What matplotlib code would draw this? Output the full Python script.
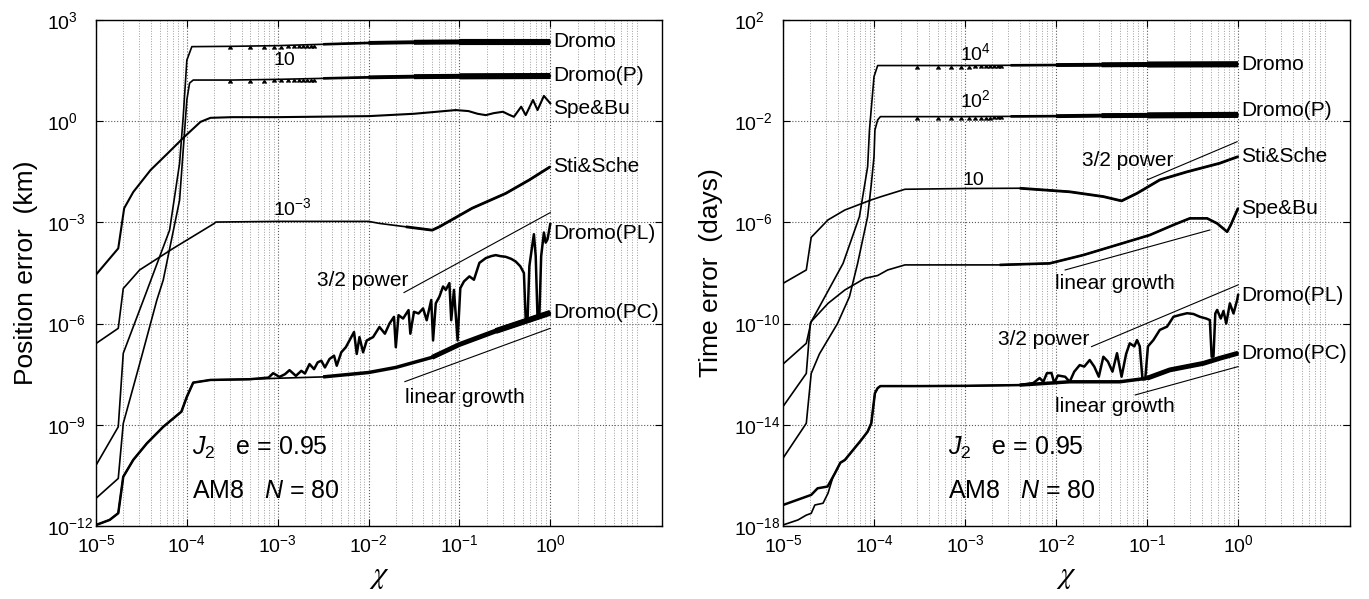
import numpy as np
import matplotlib
matplotlib.use("Agg")
import matplotlib.pyplot as plt
from matplotlib.ticker import NullLocator, LogLocator

plt.rcParams.update({
    "font.family": ["Liberation Sans", "DejaVu Sans"],
    "mathtext.fontset": "custom",
    "mathtext.rm": "Liberation Sans",
    "mathtext.it": "Liberation Sans:italic",
    "mathtext.bf": "Liberation Sans:bold",
})

# ================= DATA (log10 chi , log10 error) =================
# ---- Left panel: position error (km) ----
L_dromo_x = [-5.0, -4.755, -4.70, -4.45, -4.19, -4.08, -4.04, -4.00, -3.945, -3.5, -3.0, -2.5, -2.0, -1.5, -1.0, -0.5, 0.0]
L_dromo_y = [-10.2, -9.06, -6.88, -5.1, -3.23, -1.25, 0.13, 1.81, 2.21, 2.22, 2.24, 2.28, 2.32, 2.34, 2.35, 2.35, 2.35]

L_dromoP_x = [-5.0, -4.755, -4.70, -4.50, -4.33, -4.26, -4.08, -4.04, -4.00, -3.97, -3.93, -3.5, -3.0, -2.5, -2.0, -1.5, -1.0, 0.0]
L_dromoP_y = [-11.18, -10.59, -8.96, -7.0, -5.3, -4.71, -2.34, -0.85, 0.63, 1.13, 1.22, 1.22, 1.24, 1.27, 1.30, 1.32, 1.33, 1.34]

L_spebu_x = [-5.0, -4.755, -4.69, -4.59, -4.40, -4.21, -4.03, -3.85, -3.74, -3.5, -3.0, -2.0, -1.5, -1.04,
             -0.90, -0.80, -0.71, -0.62, -0.52, -0.46, -0.40, -0.32, -0.27, -0.19, -0.14, -0.07, 0.0]
L_spebu_y = [-4.55, -3.77, -2.58, -2.10, -1.45, -0.95, -0.47, -0.02, 0.10, 0.12, 0.12, 0.15, 0.22, 0.33,
             0.30, 0.22, 0.18, 0.24, 0.28, 0.20, 0.13, 0.43, 0.18, 0.63, 0.33, 0.75, 0.53]

L_stische_x = [-5.0, -4.755, -4.70, -4.52, -4.15, -3.71, -3.68, -3.0, -2.0, -1.88, -1.59, -1.30, -1.22, -0.86, -0.49, -0.23, 0.0]
L_stische_y = [-6.59, -6.14, -4.96, -4.41, -3.77, -3.05, -2.99, -2.97, -2.97, -3.03, -3.13, -3.23, -3.13, -2.58, -2.14, -1.74, -1.35]

L_shared_x = [-5.0, -4.85, -4.755, -4.70, -4.59, -4.44, -4.26, -4.06, -4.0, -3.93, -3.74, -3.31]
L_shared_y = [-11.97, -11.82, -11.62, -10.54, -10.04, -9.55, -9.06, -8.61, -8.17, -7.75, -7.67, -7.65]

L_pc_tail_x = [-3.0, -2.5, -2.0, -1.7, -1.3, -1.0, -0.6, -0.3, 0.0]
L_pc_tail_y = [-7.62, -7.58, -7.45, -7.30, -7.00, -6.62, -6.22, -5.95, -5.68]

L_pl_tail_x = [-3.10, -3.05, -2.98, -2.92, -2.87, -2.80, -2.74, -2.70, -2.65, -2.60, -2.56, -2.52, -2.48, -2.43,
               -2.38, -2.35, -2.30, -2.25, -2.19, -2.16, -2.13, -2.10, -2.06, -2.02, -1.95, -1.88, -1.82, -1.77,
               -1.72, -1.70, -1.67, -1.62, -1.56, -1.54, -1.50, -1.45, -1.40, -1.36, -1.31, -1.29, -1.26, -1.22,
               -1.18, -1.15, -1.11, -1.09, -1.06, -1.02, -0.99, -0.95, -0.89, -0.84, -0.78, -0.71, -0.65, -0.60,
               -0.55, -0.49, -0.43, -0.38, -0.33, -0.29, -0.27, -0.25, -0.23, -0.20, -0.18, -0.16, -0.14, -0.12,
               -0.10, -0.07, -0.05, -0.03, 0.0]
L_pl_tail_y = [-7.60, -7.47, -7.58, -7.50, -7.38, -7.55, -7.40, -7.48, -7.20, -7.35, -7.15, -7.10, -7.30, -7.05,
               -6.95, -7.25, -6.85, -6.70, -6.40, -6.25, -6.90, -6.40, -6.85, -6.50, -6.40, -6.10, -6.30, -6.00,
               -5.80, -6.70, -5.75, -5.85, -5.60, -6.30, -5.65, -5.70, -5.55, -5.90, -5.30, -6.50, -5.40, -5.20,
               -4.90, -5.00, -4.80, -5.90, -5.00, -6.50, -4.95, -4.75, -4.60, -4.70, -4.20, -4.06, -4.00, -3.97,
               -4.00, -4.02, -4.08, -4.16, -4.30, -4.50, -5.90, -5.90, -4.30, -3.72, -3.35, -4.00, -5.85, -5.80,
               -4.00, -3.30, -3.60, -3.50, -3.05]

L_pow32_x = [-1.61, 0.0]
L_pow32_y = [-5.08, -2.71]
L_lin_x = [-1.60, 0.0]
L_lin_y = [-7.72, -6.14]

# ---- Right panel: time error (days) ----
R_dromo_x = [-5.0, -4.744, -4.70, -4.54, -4.34, -4.16, -4.07, -4.05, -4.0, -3.96, -3.0, -2.5, -2.0, -1.5, -1.0, 0.0]
R_dromo_y = [-13.28, -11.97, -9.99, -8.94, -7.62, -5.77, -3.8, -2.35, -0.24, 0.2, 0.2, 0.21, 0.22, 0.23, 0.24, 0.25]

R_dromoP_x = [-5.0, -4.744, -4.69, -4.60, -4.40, -4.27, -4.18, -4.07, -4.03, -4.0, -3.99, -3.96, -3.93, -3.0, -2.5, -2.0, -1.5, -1.0, 0.0]
R_dromoP_y = [-15.32, -13.94, -11.97, -11.2, -9.99, -8.94, -7.62, -5.77, -4.5, -3.4, -2.35, -1.95, -1.82, -1.82, -1.81, -1.80, -1.78, -1.77, -1.75]

R_stische_x = [-5.0, -4.744, -4.69, -4.505, -4.32, -4.03, -3.92, -3.66, -3.0, -2.40, -1.85, -1.48, -1.28, -1.11, -0.86, -0.56, -0.20, 0.0]
R_stische_y = [-8.41, -7.88, -6.59, -5.9, -5.51, -5.11, -4.98, -4.69, -4.66, -4.65, -4.79, -4.98, -5.15, -4.85, -4.32, -4.0, -3.66, -3.40]

R_spebu_x = [-5.0, -4.744, -4.69, -4.505, -4.32, -4.10, -3.96, -3.85, -3.66, -3.0, -2.62, -2.07, -1.70, -1.33, -0.97,
             -0.71, -0.53, -0.34, -0.23, -0.12, -0.08, 0.0]
R_spebu_y = [-11.6, -10.78, -9.92, -9.2, -8.67, -8.21, -8.1, -7.88, -7.68, -7.68, -7.68, -7.62, -7.29, -6.89, -6.5,
             -6.1, -5.84, -5.84, -6.04, -6.37, -6.1, -5.44]

R_pl_head_x = [-5.0, -4.69, -4.62, -4.51, -4.43, -4.37]
R_pl_head_y = [-17.17, -16.77, -16.51, -16.44, -15.92, -15.5]
R_pc_head_x = [-5.0, -4.835, -4.744, -4.69, -4.65, -4.56, -4.505, -4.45, -4.37]
R_pc_head_y = [-17.96, -17.76, -17.57, -17.5, -17.17, -17.1, -16.7, -16.05, -15.5]
R_shared_x = [-4.32, -4.14, -4.07, -4.03, -3.99, -3.96, -3.93, -3.5, -3.0, -2.4]
R_shared_y = [-15.39, -14.6, -14.27, -13.94, -12.75, -12.55, -12.47, -12.47, -12.46, -12.43]
R_pc_tail_x = [-1.85, -1.30, -1.0, -0.75, -0.38, -0.2, 0.0]
R_pc_tail_y = [-12.3, -12.3, -12.16, -11.83, -11.57, -11.37, -11.17]
R_pl_tail_x = [-2.25, -2.18, -2.14, -2.10, -2.05, -2.02, -1.98, -1.90, -1.85, -1.80, -1.74, -1.69, -1.63, -1.58,
               -1.53, -1.48, -1.43, -1.38, -1.33, -1.28, -1.23, -1.19, -1.14, -1.11, -1.08, -1.05, -1.02, -0.99,
               -0.93, -0.86, -0.78, -0.71, -0.63, -0.56, -0.49, -0.42, -0.35, -0.31, -0.29, -0.27, -0.25, -0.23,
               -0.19, -0.16, -0.13, -0.09, -0.05, -0.01, 0.0]
R_pl_tail_y = [-12.35, -12.15, -12.3, -11.96, -11.95, -12.35, -12.05, -12.1, -12.3, -11.9, -11.64, -11.7, -11.44, -11.7,
               -12.1, -11.31, -11.5, -11.9, -11.17, -12.1, -11.2, -10.78, -10.9, -10.65, -10.9, -12.2, -12.2, -10.9,
               -10.65, -10.25, -10.12, -9.73, -9.65, -9.59, -9.62, -9.73, -9.8, -9.86, -11.31, -11.3, -9.6, -9.46,
               -9.8, -9.5, -10.0, -9.2, -9.6, -9.07, -8.87]

R_pow32a_x = [-1.0, -0.01]
R_pow32a_y = [-4.32, -2.81]
R_lina_x = [-1.90, -0.31]
R_lina_y = [-7.88, -6.30]
R_pow32b_x = [-1.61, 0.0]
R_pow32b_y = [-10.91, -8.47]
R_linb_x = [-1.13, 0.0]
R_linb_y = [-12.82, -11.7]

# periapsis spikes on the plateaus (chi values)
spike_chi = [3e-4, 5e-4, 7e-4, 9e-4, 1.1e-3, 1.3e-3, 1.5e-3, 1.7e-3, 1.9e-3, 2.1e-3, 2.3e-3, 2.5e-3]

series_names = ["Dromo", "Dromo(P)", "Spe&Bu", "Sti&Sche", "Dromo(PL)", "Dromo(PC)"]
x_ticks = [1e-5, 1e-4, 1e-3, 1e-2, 1e-1, 1e0]
L_yticks = [1e-12, 1e-9, 1e-6, 1e-3, 1e0, 1e3]
R_yticks = [1e-18, 1e-14, 1e-10, 1e-6, 1e-2, 1e2]

# ================= DRAWING =================
W, H = 1369, 599
fig = plt.figure(figsize=(W / 100, H / 100), dpi=100)
axL = fig.add_axes([96 / W, 1 - 526 / H, 566 / W, 506 / H])
axR = fig.add_axes([783 / W, 1 - 526 / H, 567 / W, 506 / H])

BASE_LW = 1.2
BAND = [(-2.5, 1.9), (-2.0, 2.8), (-1.5, 3.6), (-1.0, 4.4)]


def draw(ax, lx, ly, lw=BASE_LW, tiers=(), spikes=False):
    lx = np.asarray(lx, float)
    ly = np.asarray(ly, float)
    x, y = 10.0 ** lx, 10.0 ** ly
    ax.plot(x, y, color="k", lw=lw, solid_joinstyle="round", zorder=3)
    for thr, w in tiers:
        m = lx >= thr
        ax.plot(x[m], y[m], color="k", lw=w, solid_capstyle="butt", zorder=3)
    if spikes:
        sx = np.asarray(spike_chi)
        sy = 10.0 ** np.interp(np.log10(sx), lx, ly)
        ax.plot(sx, sy, ls="none", marker=6, ms=3.2, color="k", zorder=3)
    return x[-1], y[-1]


def label(ax, xy, text, dy=0.0):
    ax.annotate(text, xy=xy, xytext=(2, dy), textcoords="offset points",
                va="center", ha="left", fontsize=15, annotation_clip=False)


def style_axes(ax, yticks, ylim, ylabel, ylabel_x):
    ax.set_xscale("log")
    ax.set_yscale("log")
    ax.set_xlim(1e-5, 10 ** 1.23)
    ax.set_ylim(*ylim)
    ax.set_xticks(x_ticks)
    ax.xaxis.set_minor_locator(LogLocator(base=10, subs=np.arange(2, 10), numticks=50))
    ax.set_yticks(yticks)
    ax.yaxis.set_minor_locator(NullLocator())
    ax.grid(True, which="major", ls=":", color="0.35", lw=0.8)
    ax.grid(True, which="minor", axis="x", ls=":", color="0.62", lw=0.7)
    ax.tick_params(which="major", direction="in", top=True, right=True,
                   length=5, width=0.8, labelsize=14)
    ax.tick_params(which="minor", length=0)
    ax.tick_params(axis="y", pad=35)
    ax.tick_params(axis="x", pad=6)
    plt.setp(ax.get_yticklabels(), ha="left")
    for s in ax.spines.values():
        s.set_linewidth(1.0)
    ax.set_ylabel(ylabel, fontsize=19)
    ax.yaxis.set_label_coords(ylabel_x, 0.5)
    ax.set_xlabel(r"$\chi$", fontsize=22, math_fontfamily="stix")
    ax.xaxis.set_label_coords(0.5, -0.07)


# ---- left ----
e = draw(axL, L_dromo_x, L_dromo_y, tiers=BAND, spikes=True)
label(axL, e, series_names[0])
e = draw(axL, L_dromoP_x, L_dromoP_y, tiers=BAND, spikes=True)
label(axL, e, series_names[1])
e = draw(axL, L_spebu_x, L_spebu_y, lw=1.5)
label(axL, e, series_names[2], dy=-3.5)
e = draw(axL, L_stische_x, L_stische_y, tiers=[(-1.6, 2.0)])
label(axL, e, series_names[3])
e = draw(axL, L_shared_x + L_pl_tail_x, L_shared_y + L_pl_tail_y, lw=1.8)
label(axL, e, series_names[4], dy=-6.5)
e = draw(axL, L_shared_x + L_pc_tail_x, L_shared_y + L_pc_tail_y, tiers=[(-2.5, 2.5), (-1.3, 3.5), (-0.6, 4.2)])
label(axL, e, series_names[5])
axL.plot(10.0 ** np.array(L_pow32_x), 10.0 ** np.array(L_pow32_y), color="k", lw=0.8)
axL.plot(10.0 ** np.array(L_lin_x), 10.0 ** np.array(L_lin_y), color="k", lw=0.8)

axL.text(10 ** -2.93, 10 ** 1.67, "10", fontsize=14, ha="center", va="baseline")
axL.text(10 ** -2.84, 10 ** -2.78, r"$\mathdefault{10^{-3}}$", fontsize=14, ha="center", va="baseline")
axL.text(10 ** -2.57, 10 ** -4.89, "3/2 power", fontsize=15, ha="left", va="baseline")
axL.text(10 ** -1.60, 10 ** -8.35, "linear growth", fontsize=15, ha="left", va="baseline")
axL.text(10 ** -3.945, 10 ** -9.9, r"$J_{\mathrm{2}}$   e = 0.95", fontsize=18, ha="left", va="baseline")
axL.text(10 ** -3.945, 10 ** -11.18, r"AM8   $N$ = 80", fontsize=18, ha="left", va="baseline")

style_axes(axL, L_yticks, (1e-12, 1e3), "Position error  (km)", -0.103)

# ---- right ----
e = draw(axR, R_dromo_x, R_dromo_y, tiers=BAND, spikes=True)
label(axR, e, series_names[0])
e = draw(axR, R_dromoP_x, R_dromoP_y, tiers=BAND, spikes=True)
label(axR, e, series_names[1], dy=3.5)
e = draw(axR, R_stische_x, R_stische_y, tiers=[(-2.4, 2.0)])
label(axR, e, series_names[3])
e = draw(axR, R_spebu_x, R_spebu_y, tiers=[(-2.62, 1.9)])
label(axR, e, series_names[2])
e = draw(axR, R_pl_head_x + R_shared_x + R_pl_tail_x, R_pl_head_y + R_shared_y + R_pl_tail_y, lw=1.8)
label(axR, e, series_names[4])
e = draw(axR, R_pc_head_x + R_shared_x + R_pc_tail_x, R_pc_head_y + R_shared_y + R_pc_tail_y,
         tiers=[(-2.4, 2.5), (-1.0, 3.5)])
label(axR, e, series_names[5])
for xs, ys in [(R_pow32a_x, R_pow32a_y), (R_lina_x, R_lina_y), (R_pow32b_x, R_pow32b_y), (R_linb_x, R_linb_y)]:
    axR.plot(10.0 ** np.array(xs), 10.0 ** np.array(ys), color="k", lw=0.8)

axR.text(10 ** -2.89, 10 ** 0.42, r"$\mathdefault{10^{4}}$", fontsize=14, ha="center", va="baseline")
axR.text(10 ** -2.89, 10 ** -1.43, r"$\mathdefault{10^{2}}$", fontsize=14, ha="center", va="baseline")
axR.text(10 ** -2.91, 10 ** -4.52, "10", fontsize=14, ha="center", va="baseline")
axR.text(10 ** -1.72, 10 ** -3.76, "3/2 power", fontsize=15, ha="left", va="baseline")
axR.text(10 ** -2.01, 10 ** -8.65, "linear growth", fontsize=15, ha="left", va="baseline")
axR.text(10 ** -2.64, 10 ** -10.85, "3/2 power", fontsize=15, ha="left", va="baseline")
axR.text(10 ** -2.01, 10 ** -13.48, "linear growth", fontsize=15, ha="left", va="baseline")
axR.text(10 ** -3.19, 10 ** -15.19, r"$J_{\mathrm{2}}$   e = 0.95", fontsize=18, ha="left", va="baseline")
axR.text(10 ** -3.19, 10 ** -16.9, r"AM8   $N$ = 80", fontsize=18, ha="left", va="baseline")

style_axes(axR, R_yticks, (1e-18, 1e2), "Time error  (days)", -0.105)

fig.savefig("out.png", dpi=100)
